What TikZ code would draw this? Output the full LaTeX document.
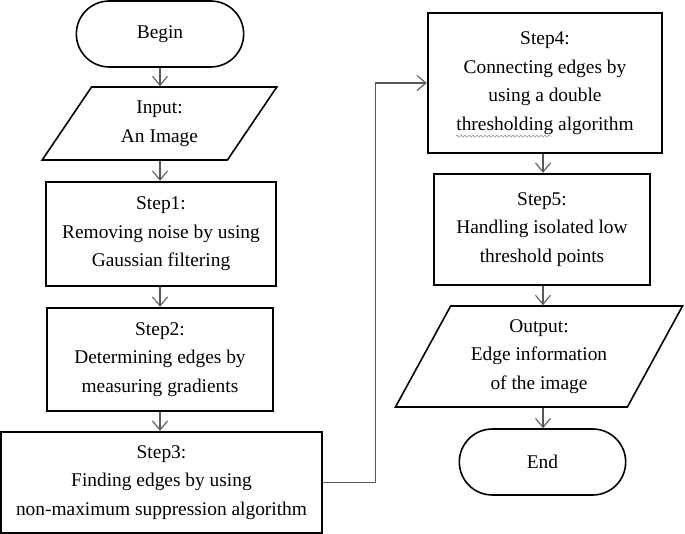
\documentclass[tikz,border=0pt]{standalone}
\usepackage{fontspec}
\usepackage{tikz}
\usepackage{xcolor}
\usetikzlibrary{shapes.geometric,shapes.misc,arrows.meta,decorations.pathmorphing}
\setmainfont{Liberation Serif}
\tikzset{
    terminal-box/.style = {draw, line width=1.6pt, rounded rectangle, minimum width=174pt, minimum height=66pt, align=center},
    io-box/.style = {draw, line width=1.6pt, trapezium, trapezium stretches=true, inner sep=0pt, align=center},
    step-box/.style = {draw, line width=2.4pt, rectangle, inner sep=0pt, align=center},
    flow-arrow/.style = {draw=black!65, line width=1.1pt, -{Straight Barb[length=9pt,width=15pt]}},
    spell-mark/.style = {draw=black!40, line width=0.6pt, decorate, decoration={snake, segment length=4pt, amplitude=1pt}},
}

\begin{document}
\begin{tikzpicture}[x=1pt, y=-1pt, font=\fontsize{19.4}{28.5}\selectfont]
\useasboundingbox (0,0) rectangle (685,534);
% left column
\node[terminal-box] (begin) at (160,34) {Begin};
\node[io-box, trapezium left angle=58.35, trapezium right angle=121.65, minimum width=235pt, minimum height=73pt] (input) at (159.5,123.5) {Input:\\An Image};
\node[step-box, minimum width=230pt, minimum height=104pt] (step1) at (161,234) {Step1:\\Removing noise by using\\Gaussian filtering};
\node[step-box, minimum width=226pt, minimum height=103pt] (step2) at (160,359.5) {Step2:\\Determining edges by\\measuring gradients};
\node[step-box, minimum width=321pt, minimum height=101pt] (step3) at (161.5,482.5) {Step3:\\Finding edges by using\\non-maximum suppression algorithm};
% right column
\node[step-box, minimum width=234pt, minimum height=140pt] (step4) at (545,83) {Step4:\\Connecting edges by\\using a double\\thresholding algorithm};
\node[step-box, minimum width=216pt, minimum height=111pt] (step5) at (542,229.5) {Step5:\\Handling isolated low\\threshold points};
\node[io-box, trapezium left angle=60.1, trapezium right angle=119.9, minimum width=288pt, minimum height=101pt] (output) at (539,356.5) {Output:\\Edge information\\of the image};
\node[terminal-box, minimum width=173pt] (end) at (542.5,462) {End};

% wavy mark under "thresholding"
\coordinate (wave-a) at ([shift={(29,-18)}]step4.south west);
\coordinate (wave-b) at ([shift={(125,-18)}]step4.south west);
\draw[spell-mark] (wave-a) -- (wave-b);

\draw[flow-arrow] (begin.south -| 160,0) -- (input.north -| 160,0);
\draw[flow-arrow] (input.south -| 160,0) -- (step1.north -| 160,0);
\draw[flow-arrow] (step1.south -| 160,0) -- (step2.north -| 160,0);
\draw[flow-arrow] (step2.south -| 160,0) -- (step3.north -| 160,0);
\draw[flow-arrow] (step3.east) -- ++(52,0) |- (step4.west);
\draw[flow-arrow] (step4.south -| 543,0) -- (step5.north -| 543,0);
\draw[flow-arrow] (step5.south -| 543,0) -- (output.north -| 543,0);
\draw[flow-arrow] (output.south -| 543,0) -- (end.north -| 543,0);
\end{tikzpicture}
\end{document}
